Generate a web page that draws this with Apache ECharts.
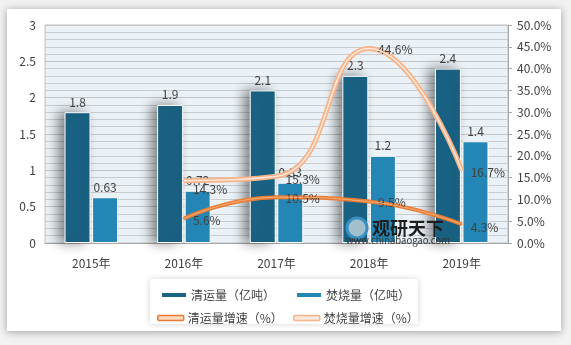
<!DOCTYPE html>
<html>
<head>
<meta charset="utf-8">
<script src="https://cdn.jsdelivr.net/npm/echarts@6/dist/echarts.min.js"></script>
<style>
  html, body { margin: 0; padding: 0; background: #f2f2f2; }
  #chart { width: 571px; height: 345px; }
</style>
</head>
<body>
<div id="chart"></div>
<script>
// Years on the category axis
const years = ['2015年', '2016年', '2017年', '2018年', '2019年'];
// Collection volume and incineration volume (hundred million tonnes)
const collected = [1.8, 1.9, 2.1, 2.3, 2.4];
const burned = [0.63, 0.72, 0.83, 1.2, 1.4];
// Year-on-year growth rates (%), no value for the first year
const collectedGrowth = [null, 5.6, 10.5, 9.5, 4.3];
const burnedGrowth = [null, 14.3, 15.3, 44.6, 16.7];

const FONT = '"Noto Sans CJK SC", "Noto Sans", sans-serif';
const TXT = '#404040';
const DARK = '#1A6385';
const LIGHT = '#2386B4';
const ORANGE = '#EA7D32';
const PEACH = '#F7B48A';
const SMOOTH = 0.5;

const chart = echarts.init(document.getElementById('chart'));

const legendItem = (name, left, top, icon, style) => ({
  data: [{ name: name, icon: icon, itemStyle: style }],
  left: left, top: top, itemWidth: 26, itemHeight: icon === 'rect' ? 6 : 5,
  itemGap: 0, selectedMode: false,
  textStyle: { fontFamily: FONT, fontSize: 12, color: TXT, padding: [0, 0, 0, -1] }
});

const pctLabel = () => ({
  show: true, position: 'right', distance: 8, color: TXT, fontSize: 12, fontFamily: FONT,
  formatter: p => p.value + '%'
});

chart.setOption({
  backgroundColor: '#f2f2f2',
  animation: false,
  textStyle: { fontFamily: FONT },
  graphic: [
    { type: 'rect', z: -10, shape: { x: 7, y: 9, width: 554, height: 322 },
      style: { fill: '#ffffff', shadowBlur: 8, shadowColor: 'rgba(0,0,0,0.35)', shadowOffsetY: 1 } },
    { type: 'rect', z: -9, shape: { x: 150, y: 279, width: 268, height: 45 },
      style: { fill: '#ffffff', shadowBlur: 6, shadowColor: 'rgba(0,0,0,0.18)' } },
    { type: 'text', z: 50, left: 372, top: 219,
      style: { text: '观研天下', fontFamily: FONT, fontSize: 18, fontWeight: 'bold', fill: '#1d1d1d' } },
    { type: 'text', z: 50, left: 346, top: 236,
      style: { text: 'www.chinabaogao.com', fontFamily: FONT, fontSize: 9.5, fill: '#333333' } },
    { type: 'circle', z: 49, shape: { cx: 357, cy: 228, r: 10 },
      style: { fill: 'rgba(255,255,255,0.6)', stroke: '#3a8fc4', lineWidth: 3 } }
  ],
  legend: [
    legendItem('清运量（亿吨）', 155, 284, 'rect', { color: DARK }),
    legendItem('焚烧量（亿吨）', 290, 284, 'rect', { color: LIGHT }),
    legendItem('清运量增速（%）', 152, 307, 'roundRect', { color: '#FBD7BE', borderColor: ORANGE, borderWidth: 1.5, opacity: 1 }),
    legendItem('焚烧量增速（%）', 288, 307, 'roundRect', { color: '#FDE9DC', borderColor: PEACH, borderWidth: 1.5, opacity: 1 })
  ],
  grid: {
    left: 45, right: 63, top: 25, bottom: 102,
    show: true, backgroundColor: '#EAF1F7', borderColor: '#BFBFBF', borderWidth: 1
  },
  xAxis: {
    type: 'category', data: years,
    axisLine: { lineStyle: { color: '#A6A6A6' } },
    axisTick: { show: false },
    axisLabel: { color: TXT, fontSize: 12, margin: 14, fontFamily: FONT }
  },
  yAxis: [
    {
      type: 'value', min: 0, max: 3, interval: 0.5,
      axisLine: { show: false }, axisTick: { show: false },
      axisLabel: { color: TXT, fontSize: 12, margin: 9, fontFamily: FONT },
      splitLine: { lineStyle: { color: '#C4C4C4', width: 1 } },
      minorTick: { show: false, splitNumber: 5 },
      minorSplitLine: { show: true, lineStyle: { color: '#C9CCCF', width: 1 } }
    },
    {
      type: 'value', min: 0, max: 50, interval: 5,
      axisLine: { show: true, lineStyle: { color: '#A6A6A6' } },
      axisTick: { show: true, length: 4, lineStyle: { color: '#A6A6A6' } },
      axisLabel: { color: TXT, fontSize: 12, margin: 9, fontFamily: FONT,
        formatter: v => v.toFixed(1) + '%' },
      splitLine: { show: false }
    }
  ],
  series: [
    {
      name: '清运量（亿吨）', type: 'bar', data: collected, barWidth: 26, barGap: '6%',
      itemStyle: { color: DARK, borderColor: '#ffffff', borderWidth: 1,
        shadowBlur: 12, shadowOffsetX: -6, shadowColor: 'rgba(0,0,0,0.45)' },
      label: { show: true, position: 'top', distance: 4, color: TXT, fontSize: 12, fontFamily: FONT }
    },
    {
      name: '焚烧量（亿吨）', type: 'bar', data: burned, barWidth: 26,
      itemStyle: { color: LIGHT, borderColor: '#ffffff', borderWidth: 1 },
      label: { show: true, position: 'top', distance: 4, color: TXT, fontSize: 12, fontFamily: FONT }
    },
    {
      name: '清运量增速（%）', type: 'line', yAxisIndex: 1, data: collectedGrowth,
      smooth: SMOOTH, showSymbol: true, symbol: 'circle', symbolSize: 2, z: 5,
      lineStyle: { color: ORANGE, width: 4 },
      itemStyle: { color: ORANGE },
      label: pctLabel(),
      labelLayout: p => ({ dy: [0, 2, 1, 1, 3][p.dataIndex] })
    },
    {
      name: '清运量增速-inner', type: 'line', yAxisIndex: 1, data: collectedGrowth,
      smooth: SMOOTH, showSymbol: false, symbol: 'none', silent: true, z: 6,
      lineStyle: { color: '#F4AE7C', width: 1 }
    },
    {
      name: '焚烧量增速（%）', type: 'line', yAxisIndex: 1, data: burnedGrowth,
      smooth: SMOOTH, showSymbol: true, symbol: 'circle', symbolSize: 2, z: 5,
      lineStyle: { color: PEACH, width: 5 },
      itemStyle: { color: PEACH },
      label: pctLabel(),
      labelLayout: p => ({ dy: [0, 9, 3, 1, 2][p.dataIndex] })
    },
    {
      name: '焚烧量增速-inner', type: 'line', yAxisIndex: 1, data: burnedGrowth,
      smooth: SMOOTH, showSymbol: false, symbol: 'none', silent: true, z: 6,
      lineStyle: { color: '#FDE7D9', width: 1.5 }
    }
  ]
});
</script>
</body>
</html>
